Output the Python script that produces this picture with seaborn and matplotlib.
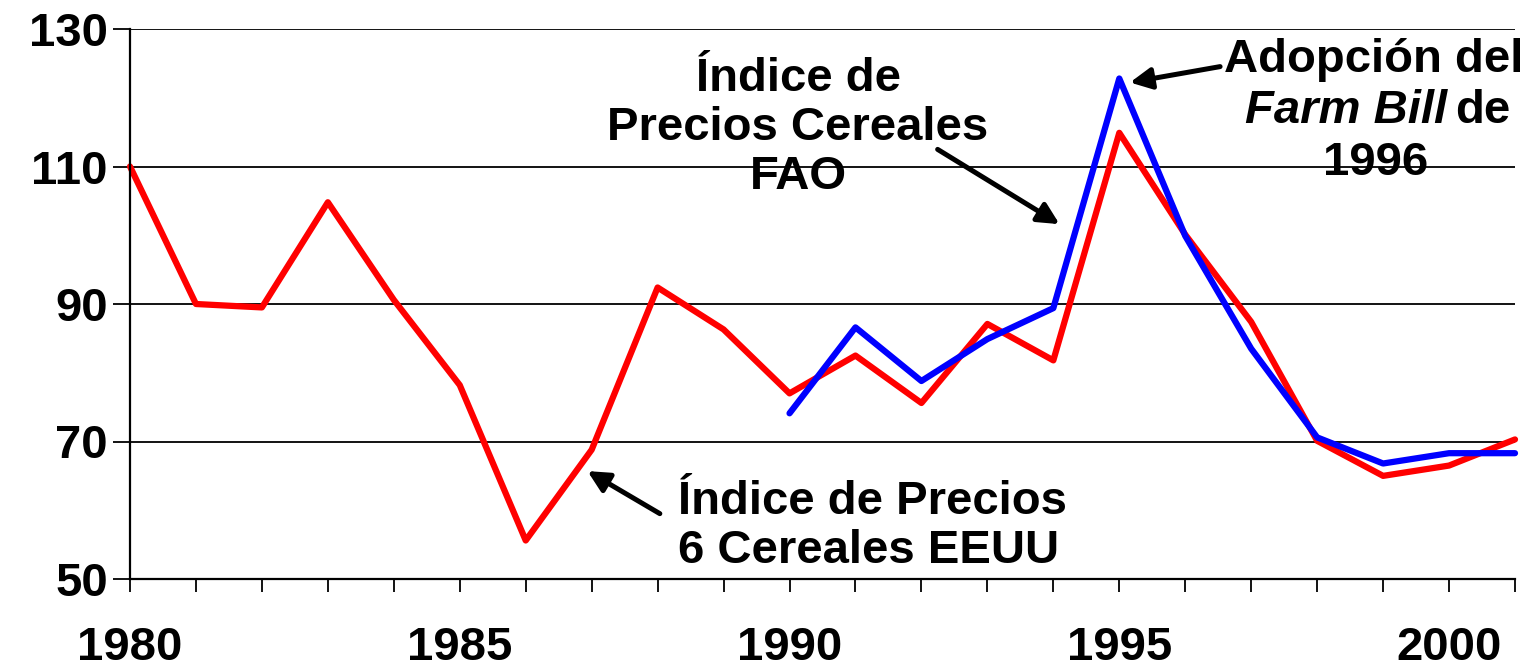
import numpy as np
import pandas as pd
import matplotlib
matplotlib.use("Agg")
import matplotlib.pyplot as plt
import seaborn as sns

# %%
# index values
years_us = list(range(1980, 2002))
us_index = [110.0, 90.0, 89.5, 104.8, 90.6, 78.2, 55.6, 68.8, 92.4, 86.3, 77.0,
            82.5, 75.6, 87.1, 81.8, 114.9, 100.1, 87.4, 70.1, 65.0, 66.5, 70.3]
years_fao = list(range(1990, 2002))
fao_index = [74.1, 86.6, 78.8, 84.9, 89.4, 122.8, 99.9, 83.5, 70.6, 66.8, 68.3, 68.3]

series_names = ["EEUU", "FAO"]
series_colors = ["#FF0000", "#0000FF"]
xtick_years = list(range(1980, 2002))
ytick_vals = [50, 70, 90, 110, 130]

df = pd.concat([
    pd.DataFrame({"year": years_us, "index": us_index, "serie": series_names[0]}),
    pd.DataFrame({"year": years_fao, "index": fao_index, "serie": series_names[1]}),
])

# %%
sns.set_style("white")
plt.rcParams["font.family"] = ["Liberation Sans", "DejaVu Sans"]
plt.rcParams["font.weight"] = "bold"
plt.rcParams["text.color"] = "black"
plt.rcParams["xtick.color"] = "black"
plt.rcParams["ytick.color"] = "black"

fig = plt.figure(figsize=(15.33, 6.72), dpi=100)
ax = fig.add_axes([130 / 1533, 93 / 672, 1385 / 1533, 550 / 672])

sns.lineplot(data=df, x="year", y="index", hue="serie",
             palette=dict(zip(series_names, series_colors)),
             linewidth=4.5, legend=False, ax=ax, clip_on=False)

ax.set_xlim(1980, 2001)
ax.set_ylim(50, 130)
ax.set_xlabel("")
ax.set_ylabel("")

# grid lines in black
for v in ytick_vals:
    ax.axhline(v, color="black", lw=1.3, zorder=0)

ax.set_yticks(ytick_vals)
ax.set_yticklabels([str(v) for v in ytick_vals], fontsize=34, fontweight="bold")
ax.set_xticks(xtick_years)
ax.set_xticklabels([str(y) if y % 5 == 0 else "" for y in xtick_years],
                   fontsize=34, fontweight="bold")
ax.tick_params(axis="y", direction="out", length=12, width=1.3, color="black", pad=4, left=True)
ax.tick_params(axis="x", direction="out", length=9.5, width=1.3, color="black", pad=24, bottom=True)

for s in ["top", "right"]:
    ax.spines[s].set_visible(False)
for s in ["left", "bottom"]:
    ax.spines[s].set_color("black")
    ax.spines[s].set_linewidth(1.6)

arrow = dict(arrowstyle="-|>", lw=3.6, color="black", mutation_scale=32)

# FAO label
ax.annotate("", xy=(1994.13, 101.4), xytext=(1992.21, 112.7), arrowprops=arrow)
ax.text(1990.13, 115.6, "Índice de\nPrecios Cereales\nFAO", ha="center", va="center",
        multialignment="center", fontsize=34, fontweight="bold", linespacing=1.15)

# US label
ax.annotate("", xy=(1986.9, 65.9), xytext=(1988.07, 59.3), arrowprops=arrow)
ax.text(1988.31, 57.6, "Índice de Precios\n6 Cereales EEUU", ha="left", va="center",
        fontsize=34, fontweight="bold", linespacing=1.15)

# Farm Bill label
ax.annotate("", xy=(1995.12, 122.15), xytext=(1996.57, 124.6), arrowprops=arrow)
ax.text(1998.85, 125.5, "Adopción del", ha="center", va="center", fontsize=34,
        fontweight="bold", clip_on=False)
ax.text(1999.97, 118.1, "Farm Bill", ha="right", va="center", fontsize=34,
        fontweight="bold", fontstyle="italic", clip_on=False)
ax.text(2000.09, 118.1, "de", ha="left", va="center", fontsize=34,
        fontweight="bold", clip_on=False)
ax.text(1998.88, 110.5, "1996", ha="center", va="center", fontsize=34,
        fontweight="bold", clip_on=False)

fig.savefig("out.png", dpi=100)
